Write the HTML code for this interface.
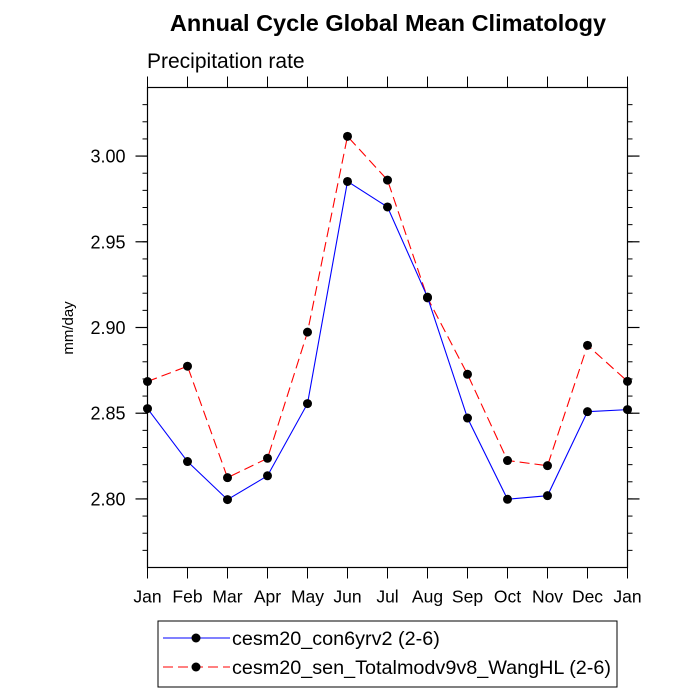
<!DOCTYPE html>
<html><head><meta charset="utf-8"><style>body{margin:0;background:#fff}svg{display:block}text{font-family:"Liberation Sans",Arial,sans-serif}</style></head>
<body>
<svg id="chart" width="700" height="700" xmlns="http://www.w3.org/2000/svg">
<text x="388" y="31" font-size="23.5" font-weight="bold" text-anchor="middle">Annual Cycle Global Mean Climatology</text>
<text x="147" y="68" font-size="21">Precipitation rate</text>
<text transform="translate(73,328) rotate(-90)" font-size="15" text-anchor="middle">mm/day</text>
<g id="axes"></g><g id="series"></g>
<g>
<rect x="158" y="621" width="459" height="66" fill="none" stroke="#000" stroke-width="1"/>
<line x1="163" y1="638" x2="230" y2="638" stroke="#0000ff"/>
<circle cx="196" cy="638" r="4.5"/>
<text x="232" y="645" font-size="19.8">cesm20_con6yrv2 (2-6)</text>
<line x1="163" y1="667" x2="230" y2="667" stroke="#ff0000" stroke-dasharray="10,5"/>
<circle cx="196" cy="667" r="4.5"/>
<text x="232" y="674" font-size="19.8">cesm20_sen_Totalmodv9v8_WangHL (2-6)</text>
</g>
</svg>
<script>
const months=["Jan","Feb","Mar","Apr","May","Jun","Jul","Aug","Sep","Oct","Nov","Dec","Jan"];
const conValues=[2.8527,2.8218,2.7996,2.8135,2.8556,2.9852,2.9703,2.9177,2.8472,2.7998,2.8019,2.8509,2.8521];
const senValues=[2.8685,2.8774,2.8124,2.8237,2.8973,3.0115,2.9860,2.9173,2.8727,2.8224,2.8194,2.8896,2.8686];
const yTicks=[2.80,2.85,2.90,2.95,3.00];
const yTickLabels=["2.80","2.85","2.90","2.95","3.00"];
const yMin=2.76,yMax=3.04;
const L=147.5,R=627.5,T=87.5,B=567.5;
const NS="http://www.w3.org/2000/svg";
function xs(i){return L+i*(R-L)/(months.length-1);}
function ys(v){return B-(v-yMin)/(yMax-yMin)*(B-T);}
function mk(tag,attrs,parent){const e=document.createElementNS(NS,tag);for(const k in attrs)e.setAttribute(k,attrs[k]);parent.appendChild(e);return e;}
const ax=document.getElementById('axes');
let r=mk('rect',{x:L,y:T,width:R-L,height:B-T,fill:'none',stroke:'#000','stroke-width':1.2},ax);


for(let v=2.77;v<3.035;v+=0.01){const y=ys(v);mk('line',{x1:L-5,x2:L,y1:y,y2:y,stroke:'#000'},ax);mk('line',{x1:R,x2:R+5,y1:y,y2:y,stroke:'#000'},ax);}
yTicks.forEach((v,i)=>{const y=ys(v);
mk('line',{x1:L-12,x2:L,y1:y,y2:y,stroke:'#000','stroke-width':1.2},ax);
mk('line',{x1:R,x2:R+12,y1:y,y2:y,stroke:'#000','stroke-width':1.2},ax);
const t=mk('text',{x:L-22,y:y+6.5,'font-size':18,'text-anchor':'end'},ax);t.textContent=yTickLabels[i];

});
months.forEach((m,i)=>{const x=xs(i);
mk('line',{x1:x,x2:x,y1:B,y2:B+11,stroke:'#000'},ax);
mk('line',{x1:x,x2:x,y1:T-11,y2:T,stroke:'#000'},ax);
const t=mk('text',{x:x,y:B+35,'font-size':17.5,'text-anchor':'middle'},ax);t.textContent=m;

});
const sg=document.getElementById('series');
function draw(vals,color,dash,name){
const pl=mk('polyline',{points:vals.map((v,i)=>xs(i)+','+ys(v)).join(' '),fill:'none',stroke:color,'stroke-width':1.1,'stroke-dasharray':dash},sg);


vals.forEach((v,i)=>{const c=mk('circle',{cx:xs(i),cy:ys(v),r:4.5,fill:'#000'},sg);

});}
draw(senValues,'#ff0000','10,5','sen');
draw(conValues,'#0000ff','none','con');
</script>
</body></html>
